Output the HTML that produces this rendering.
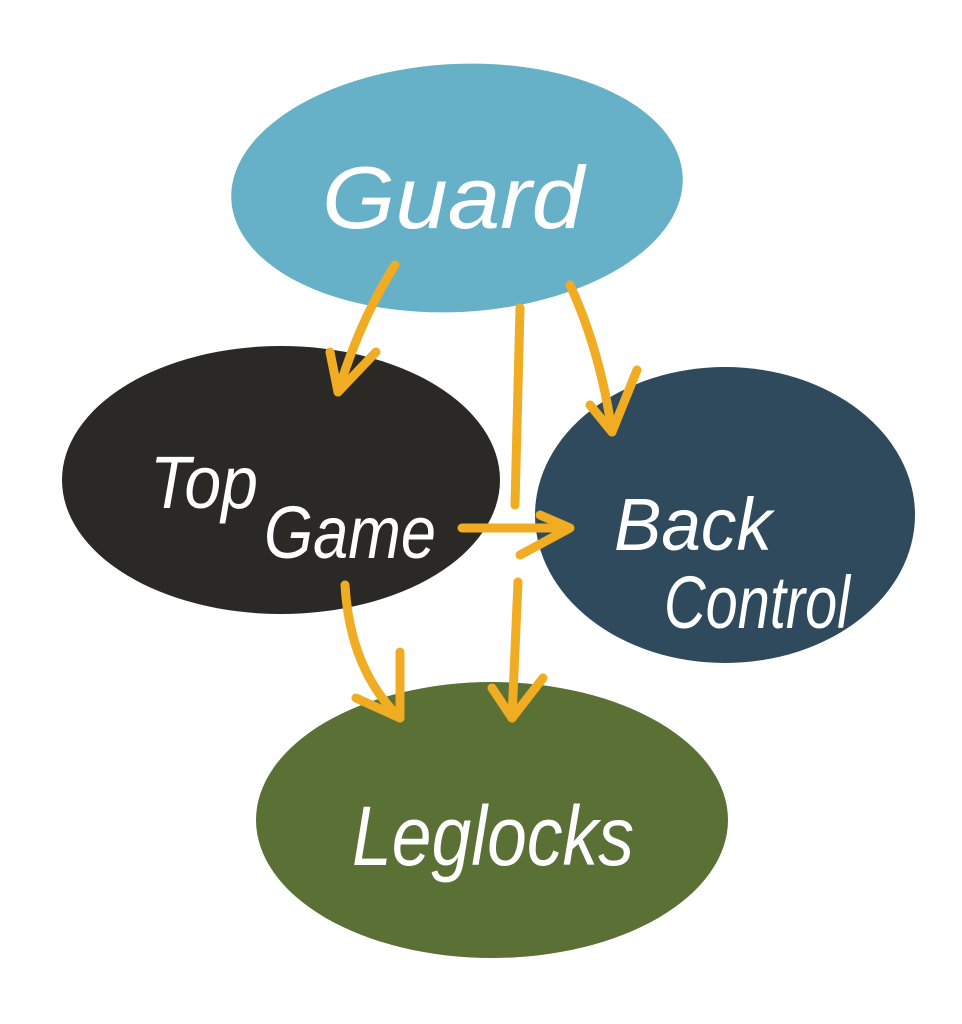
<!DOCTYPE html>
<html><head><meta charset="utf-8"><style>
html,body{margin:0;padding:0;background:#fff;width:962px;height:1024px;overflow:hidden}
svg text{font-family:"Liberation Sans",sans-serif;font-style:italic;fill:#fff}
</style></head><body>
<svg width="962" height="1024" viewBox="0 0 962 1024" xmlns="http://www.w3.org/2000/svg">
<ellipse cx="457" cy="188" rx="226" ry="124" fill="#67b1c8" transform="rotate(-3 457 188)"/>
<ellipse cx="281" cy="480" rx="219" ry="134" fill="#2a2925"/>
<ellipse cx="725" cy="515" rx="190" ry="148" fill="#2f4a5c"/>
<ellipse cx="492" cy="820" rx="236" ry="138" fill="#5a7034"/>
<text x="322" y="228" font-size="88" textLength="262" lengthAdjust="spacingAndGlyphs">Guard</text>
<text x="150" y="508" font-size="74" textLength="108" lengthAdjust="spacingAndGlyphs">Top</text>
<text x="264" y="558" font-size="74" textLength="172" lengthAdjust="spacingAndGlyphs">Game</text>
<text x="614" y="550" font-size="74" textLength="158" lengthAdjust="spacingAndGlyphs">Back</text>
<text x="664" y="628" font-size="74" textLength="186" lengthAdjust="spacingAndGlyphs">Control</text>
<text x="352" y="865" font-size="84" textLength="282" lengthAdjust="spacingAndGlyphs">Leglocks</text>
<g fill="none" stroke="#f0ac22" stroke-width="9" stroke-linecap="round" stroke-linejoin="round">
<path d="M395 265 Q360 320 338 392"/>
<path d="M330 352 L338 392 L376 352"/>
<path d="M520 308 Q518 400 515 505"/>
<path d="M462 528 L568 528"/>
<path d="M540 515 L570 528 L520 555"/>
<path d="M570 285 Q600 350 612 432"/>
<path d="M590 405 L612 432 L637 370"/>
<path d="M345 585 Q350 670 400 718"/>
<path d="M356 698 L400 718 L400 652"/>
<path d="M518 582 L512 718"/>
<path d="M492 688 L512 718 L543 678"/>
</g>
</svg>
</body></html>
